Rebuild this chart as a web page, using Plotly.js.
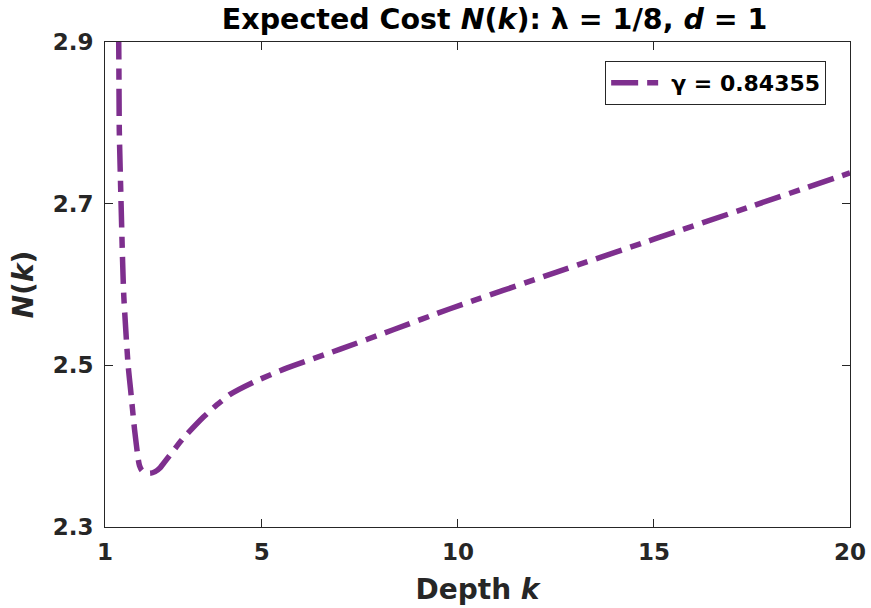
<!DOCTYPE html>
<html>
<head>
<meta charset="utf-8">
<script src="https://cdn.plot.ly/plotly-3.0.1.min.js"></script>
<style>html,body{margin:0;padding:0;background:#fff;}#chart{width:871px;height:608px;}</style>
</head>
<body>
<div id="chart"></div>
<script>
// Depth k and expected cost N(k)
const depthK = [1.30, 1.35, 1.365, 1.41, 1.45, 1.48, 1.59, 1.655, 1.755, 1.85, 1.88, 1.94, 2.03, 2.15, 2.28, 2.40, 2.53, 3.00, 3.51, 3.85, 4.19, 4.78, 5.55, 7.0, 8.35, 9.8, 12.5, 15.0, 17.5, 20.0];
const costN  = [3.05, 2.90, 2.79, 2.70, 2.627, 2.585, 2.50, 2.469, 2.420, 2.383, 2.376, 2.370, 2.3675, 2.3665, 2.3685, 2.373, 2.381, 2.410, 2.436, 2.451, 2.464, 2.479, 2.495, 2.520, 2.544, 2.570, 2.615, 2.656, 2.697, 2.738];
const seriesName = "γ = 0.84355";
const xTicks = [1, 5, 10, 15, 20];
const yTicks = [2.3, 2.5, 2.7, 2.9];

const fontFam = "DejaVu Sans, sans-serif";
const ink = "#262626";

const trace = {
  x: depthK, y: costN, type: "scatter", mode: "lines", name: seriesName,
  line: {color: "rgb(126,47,142)", width: 5.5, dash: "27px,9px,11px,9px", shape: "spline", smoothing: 0.6},
  cliponaxis: true
};

const axisCommon = {
  showgrid: false, zeroline: false, showline: true, mirror: "ticks",
  linecolor: ink, linewidth: 1, ticks: "inside", ticklen: 8, tickcolor: ink,
  tickfont: {family: fontFam, size: 23, color: ink, weight: "bold"}
};

const layout = {
  width: 871, height: 608,
  margin: {l: 105, r: 21, t: 42, b: 81},
  paper_bgcolor: "#fff", plot_bgcolor: "#fff",
  showlegend: true,
  title: {
    text: "<b>Expected Cost <i>N</i>(<i>k</i>): λ = 1/8, <i>d</i> = 1</b>",
    font: {family: fontFam, size: 28.5, color: "#000"},
    x: 0.523, xref: "paper", xanchor: "center", y: 0.969, yref: "container", yanchor: "middle"
  },
  xaxis: Object.assign({}, axisCommon, {
    range: [1, 20], tickvals: xTicks, ticktext: xTicks.map(String), ticklabelstandoff: 4,
    title: {text: "<b>Depth <i>k</i></b>", font: {family: fontFam, size: 28, color: ink}, standoff: 15}
  }),
  yaxis: Object.assign({}, axisCommon, {
    range: [2.3, 2.9], tickvals: yTicks, ticktext: yTicks.map(v => v.toFixed(1)), ticklabelstandoff: 6,
    title: {text: "<b><i>N</i>(<i>k</i>)</b>", font: {family: fontFam, size: 28, color: ink}, standoff: 10}
  }),
  legend: {
    x: 0.968, xanchor: "right", y: 0.961, yanchor: "top",
    bgcolor: "#fff", bordercolor: ink, borderwidth: 1,
    font: {family: fontFam, size: 22, color: "#000", weight: "bold"},
    itemwidth: 55
  }
};

Plotly.newPlot("chart", [trace], layout, {staticPlot: true, displayModeBar: false});
</script>
</body>
</html>
